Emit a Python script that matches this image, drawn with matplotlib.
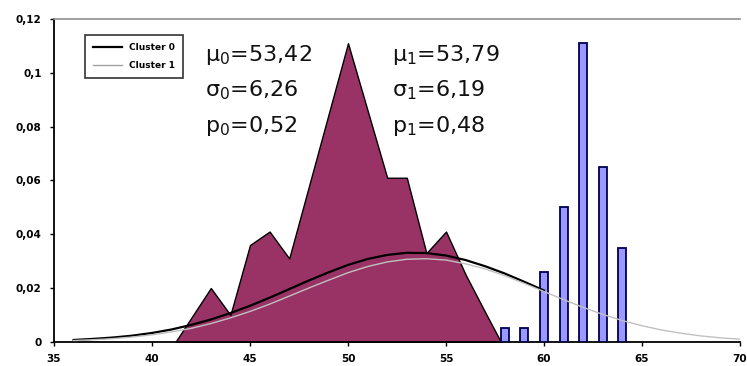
import matplotlib

matplotlib.use("Agg")
import matplotlib.pyplot as plt
from matplotlib.lines import Line2D

# observed frequency profile (area)
area_x = [41.2, 43, 44, 45, 46, 47, 50, 52, 53, 54, 55, 56, 57, 57.8]
area_y = [0.0, 0.020, 0.010, 0.036, 0.041, 0.031, 0.111, 0.061, 0.061,
          0.033, 0.041, 0.025, 0.011, 0.0]

# observed frequencies of the second group (bars)
bar_x = [58, 59, 60, 61, 62, 63, 64]
bar_y = [0.005, 0.005, 0.026, 0.050, 0.111, 0.065, 0.035]

# fitted component densities
c0_x = list(range(36, 61))
c0_y = [0.0007, 0.0011, 0.0016, 0.0023, 0.0033, 0.0046, 0.0063, 0.0083,
        0.0107, 0.0134, 0.0164, 0.0196, 0.0228, 0.0258, 0.0286, 0.0308,
        0.0323, 0.0331, 0.0330, 0.0321, 0.0304, 0.0281, 0.0254, 0.0223,
        0.0191]
c1_x = list(range(36, 71))
c1_y = [0.0005, 0.0008, 0.0012, 0.0018, 0.0026, 0.0037, 0.0050, 0.0068,
        0.0089, 0.0113, 0.0140, 0.0170, 0.0200, 0.0229, 0.0257, 0.0280,
        0.0297, 0.0307, 0.0309, 0.0304, 0.0290, 0.0271, 0.0246, 0.0217,
        0.0187, 0.0157, 0.0128, 0.0102, 0.0079, 0.0060, 0.0044, 0.0032,
        0.0022, 0.0015, 0.0010]

params0 = ["$\\mathregular{μ_0}$=53,42", "$\\mathregular{σ_0}$=6,26",
           "$\\mathregular{p_0}$=0,52"]
params1 = ["$\\mathregular{μ_1}$=53,79", "$\\mathregular{σ_1}$=6,19",
           "$\\mathregular{p_1}$=0,48"]

xticks = [35, 40, 45, 50, 55, 60, 65, 70]
yticks = [0, 0.02, 0.04, 0.06, 0.08, 0.10, 0.12]
ytick_labels = ["0", "0,02", "0,04", "0,06", "0,08", "0,1", "0,12"]

fig = plt.figure(figsize=(7.47, 3.66), dpi=100)
ax = fig.add_axes([0.0723, 0.066, 0.9183, 0.882])

ax.fill_between(area_x, area_y, 0, color="#993366", edgecolor="black",
                linewidth=1.0, zorder=2)
ax.bar(bar_x, bar_y, width=0.4, color="#9999FF", edgecolor="#000050",
       linewidth=1.3, zorder=3)
ax.plot(c0_x, c0_y, color="black", linewidth=1.6, zorder=4)
ax.plot(c1_x, c1_y, color="#C0C0C0", linewidth=1.0, zorder=5)

ax.set_xlim(35, 70)
ax.set_ylim(0, 0.12)
ax.set_xticks(xticks)
ax.set_xticklabels([str(t) for t in xticks])
ax.set_yticks(yticks)
ax.set_yticklabels(ytick_labels)
ax.tick_params(axis="both", direction="out", length=3, width=1,
               labelsize=7.5, pad=6)
for lbl in ax.get_xticklabels() + ax.get_yticklabels():
    lbl.set_fontweight("bold")

ax.spines["right"].set_visible(False)
ax.spines["top"].set_color("#909090")
ax.spines["top"].set_linewidth(1.2)
ax.spines["left"].set_linewidth(1.3)
ax.spines["bottom"].set_linewidth(1.3)

for i, (t0, t1) in enumerate(zip(params0, params1)):
    y = 0.1067 - i * 0.0133
    ax.text(42.7, y, t0, fontsize=16, color="#111111", va="center",
            ha="left", zorder=6)
    ax.text(52.25, y, t1, fontsize=16, color="#111111", va="center",
            ha="left", zorder=6)

handles = [Line2D([], [], color="black", linewidth=1.6),
           Line2D([], [], color="#A0A0A0", linewidth=1.0)]
leg = ax.legend(handles, ["Cluster 0", "Cluster 1"], loc="upper left",
                bbox_to_anchor=(0.038, 0.965), frameon=True,
                fancybox=False, edgecolor="black", handlelength=3.2,
                borderpad=0.9, labelspacing=1.0,
                prop={"weight": "bold", "size": 6.5})
leg.get_frame().set_linewidth(1.2)

fig.savefig("out.png", dpi=100)
